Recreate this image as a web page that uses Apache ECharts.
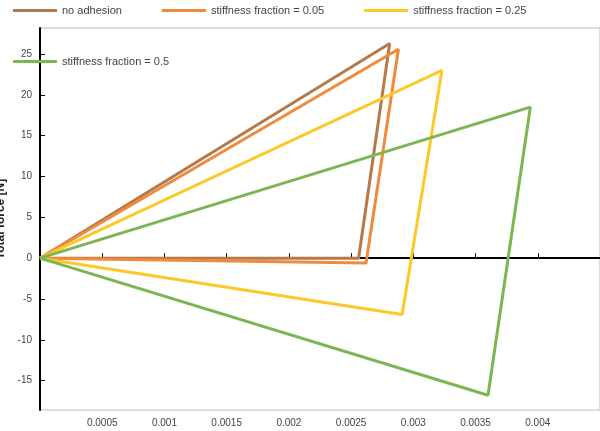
<!DOCTYPE html>
<html><head><meta charset="utf-8">
<script src="https://cdn.jsdelivr.net/npm/echarts@6/dist/echarts.min.js"></script>
</head><body style="margin:0">
<div id="c" style="width:600px;height:431px"></div>
<script>
const names = ['no adhesion','stiffness fraction = 0.05','stiffness fraction = 0.25','stiffness fraction = 0.5'];
const colors = ['#b57a4c','#f08a3c','#fcc82a','#7db552'];
const noAdhesion = [[0,0],[0.00281,26.3],[0.00256,0],[0,0]];
const sf005 = [[0,0],[0.00288,25.6],[0.00262,-0.6],[0,0]];
const sf025 = [[0,0],[0.00323,23.0],[0.00291,-6.9],[0,0]];
const sf05 = [[0,0],[0.00394,18.5],[0.0036,-16.8],[0,0]];
const xTicks = [0.0005,0.001,0.0015,0.002,0.0025,0.003,0.0035,0.004];
const yTicks = [-15,-10,-5,0,5,10,15,20,25];
const all = [noAdhesion, sf005, sf025, sf05];
const chart = echarts.init(document.getElementById('c'));
chart.setOption({
  animation:false,
  legend:{top:0,left:8,itemGap:40,itemWidth:44,itemHeight:3,icon:'rect',
    textStyle:{color:'#444',fontSize:11,fontFamily:'Liberation Sans'}},
  grid:{left:40,right:0,top:28,bottom:21,show:true,borderColor:'#bbb',borderWidth:1,outerBoundsMode:'none',containLabel:false},
  xAxis:{type:'value',min:0,max:0.0045,name:'Overlap/diameter',nameLocation:'middle',nameGap:163,
    nameTextStyle:{fontWeight:'bold',fontSize:12,color:'#222',fontFamily:'Liberation Sans'},
    axisLine:{onZero:true,lineStyle:{color:'#000',width:2}},
    axisTick:{inside:true,length:5,customValues:xTicks,lineStyle:{color:'#000'}},
    axisLabel:{customValues:xTicks,color:'#444',fontSize:10,margin:8,fontFamily:'Liberation Sans',formatter:v=>String(v)},
    splitLine:{show:false}},
  yAxis:{type:'value',min:-18.6,max:28.2,name:'Total force [N]',nameLocation:'middle',nameGap:28,
    nameTextStyle:{fontWeight:'bold',fontSize:12,color:'#222',fontFamily:'Liberation Sans'},
    axisLine:{onZero:false,lineStyle:{color:'#000',width:2}},
    axisTick:{inside:true,length:5,customValues:yTicks,lineStyle:{color:'#000'}},
    axisLabel:{customValues:yTicks,color:'#444',fontSize:10,margin:8,fontFamily:'Liberation Sans'},
    splitLine:{show:false}},
  series: all.map((d,i)=>({name:names[i],type:'line',data:d,symbol:'none',
    lineStyle:{width:3,color:colors[i]},itemStyle:{color:colors[i]}}))
});
</script></body></html>
